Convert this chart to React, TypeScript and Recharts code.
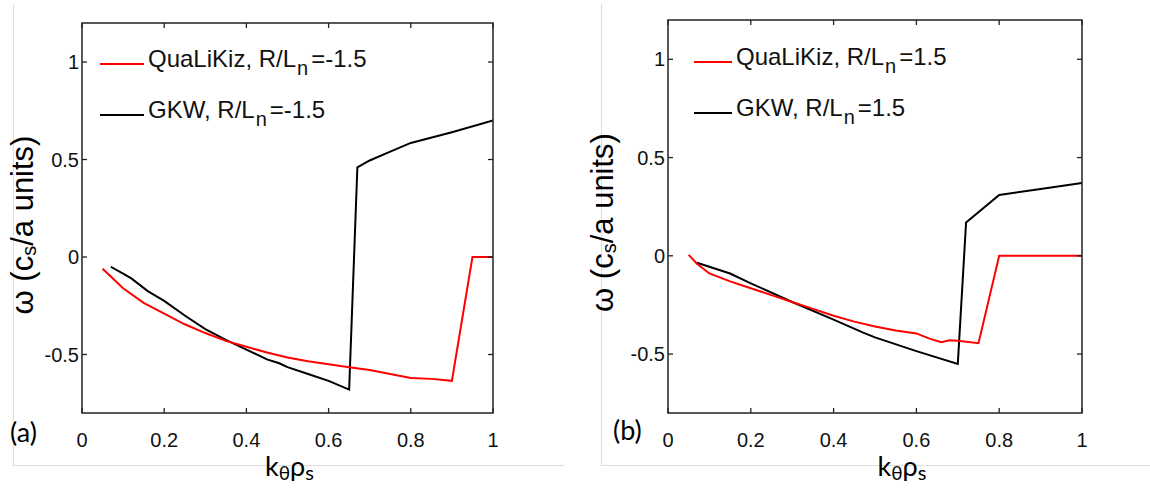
import { LineChart, Line, XAxis, YAxis, Label } from 'recharts';

const xTicks = [0, 0.2, 0.4, 0.6, 0.8, 1];
const yTicks = [-0.5, 0, 0.5, 1];
const xDomain = [0, 1];
const yDomain = [-0.8, 1.2];

// panel (a), R/Ln = -1.5
const kQlkA = [0.05, 0.07, 0.1, 0.15, 0.2, 0.25, 0.3, 0.35, 0.4, 0.45, 0.5, 0.55, 0.6, 0.65, 0.7, 0.75, 0.8, 0.85, 0.9, 0.95, 1.0];
const wQlkA = [-0.06, -0.1, -0.16, -0.235, -0.29, -0.345, -0.39, -0.43, -0.46, -0.49, -0.515, -0.535, -0.55, -0.565, -0.58, -0.6, -0.62, -0.625, -0.635, 0, 0];
const kGkwA = [0.07, 0.1, 0.12, 0.16, 0.2, 0.25, 0.3, 0.35, 0.4, 0.45, 0.48, 0.5, 0.55, 0.6, 0.65, 0.67, 0.7, 0.75, 0.8, 0.9, 1.0];
const wGkwA = [-0.05, -0.085, -0.11, -0.175, -0.225, -0.3, -0.37, -0.425, -0.475, -0.525, -0.545, -0.565, -0.6, -0.635, -0.68, 0.46, 0.495, 0.54, 0.585, 0.64, 0.7];

// panel (b), R/Ln = 1.5
const kQlkB = [0.05, 0.07, 0.1, 0.15, 0.2, 0.25, 0.3, 0.35, 0.4, 0.45, 0.5, 0.55, 0.6, 0.63, 0.66, 0.68, 0.7, 0.75, 0.8, 0.9, 1.0];
const wQlkB = [0.005, -0.04, -0.09, -0.13, -0.165, -0.2, -0.235, -0.27, -0.305, -0.335, -0.36, -0.38, -0.395, -0.42, -0.44, -0.43, -0.432, -0.445, 0, 0, 0];
const kGkwB = [0.07, 0.15, 0.2, 0.3, 0.4, 0.47, 0.5, 0.6, 0.7, 0.72, 0.8, 0.9, 1.0];
const wGkwB = [-0.035, -0.09, -0.14, -0.235, -0.325, -0.39, -0.415, -0.485, -0.55, 0.17, 0.31, 0.34, 0.37];

const toPoints = (k: number[], w: number[]) => k.map((v, i) => ({ k: v, w: w[i] }));

const SANS = '"Liberation Sans", Arial, sans-serif';
const FRAME = '#222222';
const TICK = 5;
const CHART_W = 575;
const CHART_H = 489;
const X_AXIS_H = 30;
const Y_AXIS_W = 50;
const X_TICK_GAP = 20;
const Y_TICK_GAP = 3;

// bottom tick label + matlab style inner ticks (bottom and top edge)
function XTick(props: any) {
  const { x, y, payload, plotH } = props;
  const c = Number(payload.coordinate ?? x);
  const bottom = y - X_TICK_GAP;
  const top = bottom - plotH;
  return (
    <g>
      <line x1={c} y1={bottom} x2={c} y2={bottom - TICK} stroke={FRAME} strokeWidth={1.3} />
      <line x1={c} y1={top} x2={c} y2={top + TICK} stroke={FRAME} strokeWidth={1.3} />
      <text x={x} y={y} dy="0.71em" textAnchor="middle" fontFamily={SANS} fontSize={20} fill="#111">
        {String(payload.value)}
      </text>
    </g>
  );
}

// left tick label + inner ticks on left and right edge
function YTick(props: any) {
  const { x, y, payload, plotW } = props;
  const c = Number(payload.coordinate ?? y);
  const left = x + Y_TICK_GAP;
  const right = left + plotW;
  return (
    <g>
      <line x1={left} y1={c} x2={left + TICK} y2={c} stroke={FRAME} strokeWidth={1.3} />
      <line x1={right} y1={c} x2={right - TICK} y2={c} stroke={FRAME} strokeWidth={1.3} />
      <text x={x} y={y} dy="0.355em" textAnchor="end" fontFamily={SANS} fontSize={20} fill="#111">
        {String(payload.value)}
      </text>
    </g>
  );
}

// axes box, from the x axis area (plot left/width/bottom) and the plot height
function Frame(props: any) {
  const { viewBox, plotH } = props;
  return (
    <rect
      x={viewBox.x}
      y={viewBox.y - plotH}
      width={viewBox.width}
      height={plotH}
      fill="none"
      stroke={FRAME}
      strokeWidth={1.5}
    />
  );
}

function YTitle(props: any) {
  const { viewBox, cxOff, dy } = props;
  const cx = viewBox.x + cxOff;
  const cy = viewBox.y + viewBox.height / 2 + dy;
  return (
    <text
      x={cx}
      y={cy}
      transform={`rotate(-90 ${cx} ${cy})`}
      textAnchor="middle"
      dominantBaseline="central"
      fontFamily={SANS}
      fontSize={31}
      fill="#000"
    >
      ω (c<tspan fontSize={20} dy={7}>s</tspan>
      <tspan dy={-7}>/a units)</tspan>
    </text>
  );
}

function XTitle(props: any) {
  const { viewBox, dx } = props;
  return (
    <text
      x={viewBox.x + viewBox.width / 2 + dx}
      y={viewBox.y + 63}
      textAnchor="middle"
      fontFamily="Lato, sans-serif"
      fontSize={27}
      fill="#000"
    >
      k<tspan fontSize={19} dy={4}>θ</tspan>
      <tspan dy={-4}>ρ</tspan>
      <tspan fontSize={20} dy={4}>s</tspan>
    </text>
  );
}

function PanelTag(props: any) {
  const { viewBox, dx, dy, tag } = props;
  return (
    <text x={viewBox.x + dx} y={viewBox.y + dy} fontFamily="Lato, sans-serif" fontSize={27} fill="#000">
      {tag}
    </text>
  );
}

interface LegendRow {
  color: string;
  name: string;
  top: number;
}

function PlotLegend({ rows, left, swatch, rln }: { rows: LegendRow[]; left: number; swatch: number; rln: string }) {
  return (
    <>
      {rows.map((r) => (
        <div
          key={r.name}
          style={{
            position: 'absolute',
            left,
            top: r.top,
            display: 'flex',
            alignItems: 'flex-start',
            fontFamily: SANS,
            fontSize: 24,
            lineHeight: '27px',
            color: '#111',
            whiteSpace: 'nowrap',
          }}
        >
          <span style={{ width: swatch, height: 2, marginTop: 18, marginRight: 4, background: r.color }} />
          <span>
            {r.name}, R/L
            <span style={{ fontSize: 20, position: 'relative', top: 8, marginLeft: 1, marginRight: 3 }}>n</span>={rln}
          </span>
        </div>
      ))}
    </>
  );
}

interface PanelProps {
  left: number;
  margin: { top: number; right: number; bottom: number; left: number };
  qlk: { k: number; w: number }[];
  gkw: { k: number; w: number }[];
  rln: string;
  tag: string;
  tagDx: number;
  tagDy: number;
  xTitleDx: number;
  yTitleOff: number;
  yTitleDy: number;
  legendLeft: number;
  legendSwatch: number;
  legendTops: number[];
}

function Panel(p: PanelProps) {
  const plotW = CHART_W - p.margin.left - p.margin.right - Y_AXIS_W;
  const plotH = CHART_H - p.margin.top - p.margin.bottom - X_AXIS_H;
  return (
    <div style={{ position: 'absolute', left: p.left, top: 0, width: CHART_W, height: CHART_H }}>
      <LineChart width={CHART_W} height={CHART_H} margin={p.margin}>
        <XAxis
          dataKey="k"
          type="number"
          domain={xDomain}
          ticks={xTicks}
          allowDataOverflow
          height={X_AXIS_H}
          axisLine={false}
          tickLine={false}
          tickSize={0}
          tickMargin={X_TICK_GAP}
          tick={(tp: any) => <XTick {...tp} plotH={plotH} />}
        >
          <Label content={(lp: any) => <Frame {...lp} plotH={plotH} />} />
          <Label content={(lp: any) => <XTitle {...lp} dx={p.xTitleDx} />} />
          <Label content={(lp: any) => <PanelTag {...lp} dx={p.tagDx} dy={p.tagDy} tag={p.tag} />} />
        </XAxis>
        <YAxis
          type="number"
          domain={yDomain}
          ticks={yTicks}
          allowDataOverflow
          width={Y_AXIS_W}
          axisLine={false}
          tickLine={false}
          tickSize={0}
          tickMargin={Y_TICK_GAP}
          tick={(tp: any) => <YTick {...tp} plotW={plotW} />}
        >
          <Label content={(lp: any) => <YTitle {...lp} cxOff={p.yTitleOff} dy={p.yTitleDy} />} />
        </YAxis>
        <Line data={p.gkw} dataKey="w" type="linear" stroke="#000" strokeWidth={2} dot={false} isAnimationActive={false} />
        <Line data={p.qlk} dataKey="w" type="linear" stroke="#ff0000" strokeWidth={2} dot={false} isAnimationActive={false} />
      </LineChart>
      <PlotLegend
        left={p.legendLeft}
        swatch={p.legendSwatch}
        rln={p.rln}
        rows={[
          { color: '#ff0000', name: 'QuaLiKiz', top: p.legendTops[0] },
          { color: '#000', name: 'GKW', top: p.legendTops[1] },
        ]}
      />
    </div>
  );
}

export default function App() {
  return (
    <div style={{ position: 'absolute', left: 0, top: 0, width: 1150, height: 489, background: '#fff', overflow: 'hidden' }}>
      <div style={{ position: 'absolute', left: 13, top: 4, width: 550, height: 461, borderLeft: '1px solid #ddd', borderBottom: '1px solid #ddd' }} />
      <div style={{ position: 'absolute', left: 601, top: 4, width: 549, height: 461, borderLeft: '1px solid #ddd', borderBottom: '1px solid #ddd' }} />
      <Panel
        left={0}
        margin={{ top: 23, right: 82, bottom: 46, left: 32 }}
        qlk={toPoints(kQlkA, wQlkA)}
        gkw={toPoints(kGkwA, wGkwA)}
        rln="-1.5"
        tag="(a)"
        tagDx={-72}
        tagDy={29}
        xTitleDx={2}
        yTitleOff={-10}
        yTitleDy={7}
        legendLeft={100}
        legendSwatch={44}
        legendTops={[45, 96]}
      />
      <Panel
        left={575}
        margin={{ top: 20, right: 68, bottom: 46, left: 43 }}
        qlk={toPoints(kQlkB, wQlkB)}
        gkw={toPoints(kGkwB, wGkwB)}
        rln="1.5"
        tag="(b)"
        tagDx={-55}
        tagDy={27}
        xTitleDx={27}
        yTitleOff={-16}
        yTitleDy={6}
        legendLeft={119}
        legendSwatch={38}
        legendTops={[43, 94]}
      />
    </div>
  );
}
